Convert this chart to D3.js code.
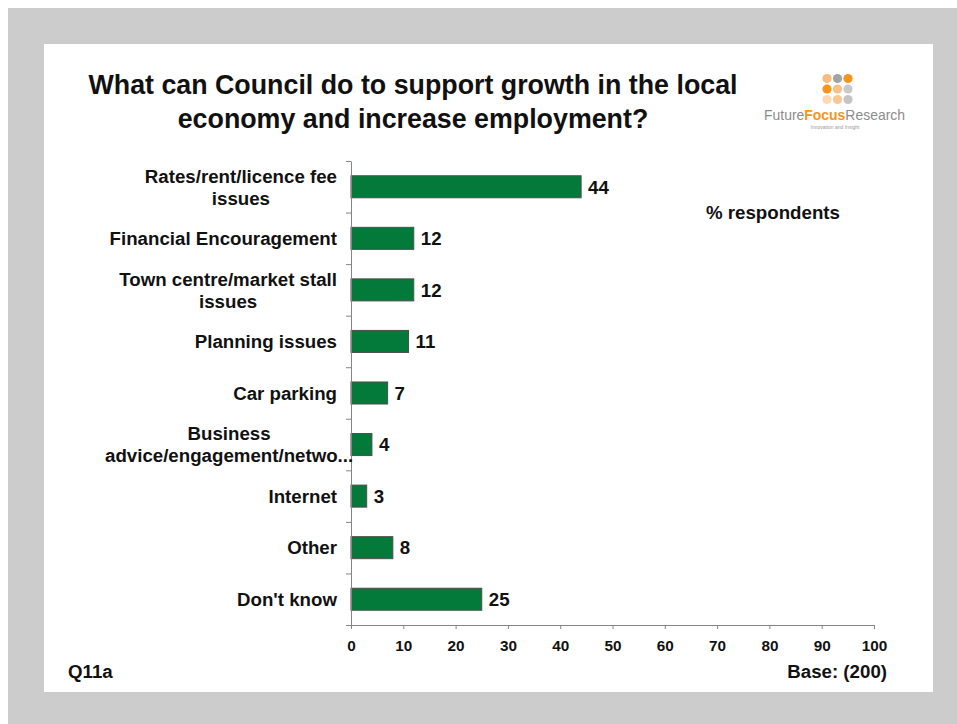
<!DOCTYPE html>
<html>
<head>
<meta charset="utf-8">
<script src="https://cdn.jsdelivr.net/npm/d3@7/dist/d3.min.js"></script>
<style>
  html, body { margin: 0; padding: 0; background: #ffffff; }
  svg { display: block; }
  text { font-family: "Liberation Sans", Arial, sans-serif; }
</style>
</head>
<body>
<div id="chart"></div>
<script>
// Survey responses (% of respondents), one bar per answer category
const categories = [
  ["Rates/rent/licence fee", "issues"],
  ["Financial Encouragement"],
  ["Town centre/market stall", "issues"],
  ["Planning issues"],
  ["Car parking"],
  ["Business", "advice/engagement/netwo..."],
  ["Internet"],
  ["Other"],
  ["Don't know"]
];
const values = [44, 12, 12, 11, 7, 4, 3, 8, 25];
const xTicks = [0, 10, 20, 30, 40, 50, 60, 70, 80, 90, 100];
const titleLines = [
  "What can Council do to support growth in the local",
  "economy and increase employment?"
];

const W = 957, H = 724;
const svg = d3.select("#chart").append("svg")
  .attr("width", W).attr("height", H);

// Slide frame: grey surround with a white panel
svg.append("rect").attr("x", 8).attr("y", 8).attr("width", W - 8).attr("height", H - 8)
  .attr("fill", "#cccccc");
svg.append("rect").attr("x", 44).attr("y", 44).attr("width", 889).attr("height", 648)
  .attr("fill", "#ffffff");

// Title
svg.append("g").selectAll("text").data(titleLines).join("text")
  .attr("x", 413)
  .attr("y", (d, i) => 94 + i * 34)
  .attr("text-anchor", "middle")
  .attr("font-size", 26.8)
  .attr("font-weight", "bold")
  .attr("fill", "#111")
  .text(d => d);

// Company logo: dot grid and wordmark
const dotColours = [
  ["#f9bb7d", "#a3a3a3", "#f7941d"],
  ["#f7941d", "#f9bf86", "#c9c9c9"],
  ["#fcd9b6", "#fac692", "#c4c4c4"]
];
const logo = svg.append("g");
dotColours.forEach((row, r) => row.forEach((c, k) => {
  logo.append("circle")
    .attr("cx", 827 + k * 10.5).attr("cy", 78.5 + r * 10.5).attr("r", 4.6)
    .attr("fill", c);
}));
const word = logo.append("text")
  .attr("x", 764).attr("y", 120)
  .attr("font-size", 15)
  .attr("textLength", 141).attr("lengthAdjust", "spacingAndGlyphs")
  .style("font-family", "'Liberation Sans Narrow', 'Liberation Sans', sans-serif");
word.append("tspan").attr("fill", "#8c8c8c").text("Future");
word.append("tspan").attr("fill", "#f7941d").attr("font-weight", "bold").text("Focus");
word.append("tspan").attr("fill", "#8c8c8c").text("Research");
logo.append("text")
  .attr("x", 835).attr("y", 128.5)
  .attr("text-anchor", "middle")
  .attr("font-size", 5)
  .attr("fill", "#9a9a9a")
  .text("Innovation and Insight");

// Scales
const x = d3.scaleLinear().domain([0, 100]).range([351, 874]);
const y = d3.scaleBand()
  .domain(d3.range(categories.length))
  .range([161, 625])
  .paddingInner(0.573)
  .paddingOuter(0.2865);
const yEdges = d3.scaleLinear().domain([0, categories.length]).range([161, 625]);

const fontSize = 18.7;
const axisColour = "#858585";

// Bars
svg.append("g").selectAll("rect").data(values).join("rect")
  .attr("x", x(0))
  .attr("y", (d, i) => y(i))
  .attr("width", d => x(d) - x(0))
  .attr("height", y.bandwidth())
  .attr("fill", "#037a3a")
  .attr("stroke", "#4d4d4d")
  .attr("stroke-width", 1);

// Value labels
svg.append("g").selectAll("text").data(values).join("text")
  .attr("x", d => x(d) + 7)
  .attr("y", (d, i) => y(i) + y.bandwidth() / 2)
  .attr("dy", "0.36em")
  .attr("font-size", fontSize)
  .attr("font-weight", "bold")
  .attr("fill", "#111")
  .text(d => d);

// Y axis: line with outward ticks at category boundaries
const yAxis = svg.append("g")
  .attr("transform", `translate(${x(0)},0)`)
  .call(d3.axisLeft(yEdges).tickValues(d3.range(categories.length + 1)).tickSize(5).tickSizeOuter(0).tickFormat(""));
yAxis.select(".domain").attr("stroke", axisColour);
yAxis.selectAll(".tick line").attr("stroke", axisColour);

// X axis
const xAxis = svg.append("g")
  .attr("transform", "translate(0,625)")
  .call(d3.axisBottom(x).tickValues(xTicks).tickSize(4).tickSizeOuter(0));
xAxis.select(".domain").attr("stroke", axisColour);
xAxis.selectAll(".tick line").attr("stroke", axisColour);
xAxis.selectAll(".tick text")
  .attr("y", 25.5).attr("dy", 0)
  .attr("font-size", 15.3)
  .attr("font-weight", "bold")
  .attr("fill", "#111")
  .style("font-family", "'Liberation Sans', Arial, sans-serif");

// Category labels (right-aligned block, lines centred within it)
const labelRight = 337, labelLeft = 105, lineGap = 22;
const labels = svg.append("g");
categories.forEach((lines, i) => {
  const cy = y(i) + y.bandwidth() / 2;
  const g = labels.append("g");
  const texts = g.selectAll("text").data(lines).join("text")
    .attr("y", (d, j) => cy + (j - (lines.length - 1) / 2) * lineGap)
    .attr("dy", "0.36em")
    .attr("text-anchor", "middle")
    .attr("font-size", fontSize)
    .attr("font-weight", "bold")
    .attr("fill", "#111")
    .text(d => d);
  const maxW = d3.max(texts.nodes(), n => n.getComputedTextLength());
  const cx = maxW > labelRight - labelLeft ? labelLeft + maxW / 2 : labelRight - maxW / 2;
  texts.attr("x", cx);
});

// Annotations
svg.append("text").attr("x", 706).attr("y", 219)
  .attr("font-size", fontSize).attr("font-weight", "bold").attr("fill", "#111")
  .text("% respondents");
svg.append("text").attr("x", 68).attr("y", 678)
  .attr("font-size", fontSize).attr("font-weight", "bold").attr("fill", "#111")
  .text("Q11a");
svg.append("text").attr("x", 887).attr("y", 678).attr("text-anchor", "end")
  .attr("font-size", fontSize).attr("font-weight", "bold").attr("fill", "#111")
  .text("Base: (200)");
</script>
</body>
</html>
